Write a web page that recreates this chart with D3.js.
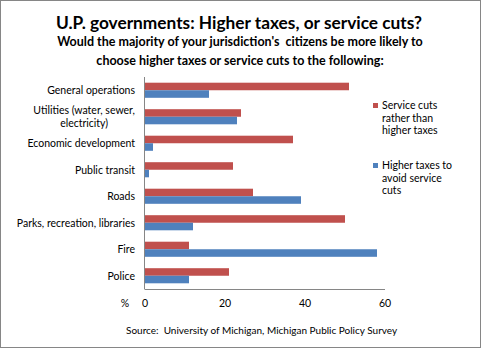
<!DOCTYPE html>
<html>
<head>
<meta charset="utf-8">
<script src="https://cdn.jsdelivr.net/npm/d3@7"></script>
<style>
	body { margin: 0; background: #fff; }
	svg { display: block; font-family: Lato, sans-serif; }
	.title { font-size: 17.3px; font-weight: bold; fill: #000; }
	.subtitle { font-size: 12.5px; font-weight: bold; fill: #000; }
	.label { font-size: 10.5px; fill: #000; }
	.source { font-size: 10px; fill: #000; }
</style>
</head>
<body>
<div id="chart"></div>
<script>
// survey answers, % of jurisdictions
const categories = ['General operations', 'Utilities (water, sewer,|electricity)', 'Economic development', 'Public transit', 'Roads', 'Parks, recreation, libraries', 'Fire', 'Police'];
const serviceCuts = [51, 24, 37, 22, 27, 50, 11, 21];
const higherTaxes = [16, 23, 2, 1, 39, 12, 58, 11];
const xTicks = [0, 20, 40, 60];
const seriesNames = ['Service cuts|rather than|higher taxes', 'Higher taxes to|avoid service|cuts'];
const seriesColors = ['#C0504D', '#4F81BD'];

const width = 481, height = 348;

const svg = d3.select('#chart').append('svg')
	.attr('width', width)
	.attr('height', height)

svg.append('rect')
	.attr('x', 0.5).attr('y', 0.5)
	.attr('width', width - 1).attr('height', height - 1)
	.style('fill', '#fff')
	.style('stroke', '#868686')

svg.append('text')
	.attr('class', 'title')
	.attr('x', 239).attr('y', 29)
	.attr('text-anchor', 'middle')
	.text('U.P. governments: Higher taxes, or service cuts?')

svg.selectAll('.subtitle')
	.data(['Would the majority of your jurisdiction\'s  citizens be more likely to', 'choose higher taxes or service cuts to the following:'])
	.enter()
	.append('text')
	.attr('class', 'subtitle')
	.attr('x', 240)
	.attr('y', (d, i) => 46 + i * 19)
	.attr('text-anchor', 'middle')
	.style('white-space', 'pre')
	.text(d => d)

const x = d3.scaleLinear().domain([0, 60]).range([145, 385]);
const y = d3.scaleBand().domain(categories).range([77, 289]).paddingInner(0.43).paddingOuter(0.215);
const sub = d3.scaleBand().domain([0, 1]).range([0, y.bandwidth()]);

const plot = svg.append('g')

const rows = plot.selectAll('g.row')
	.data(categories.map((c, i) => ({ name: c, values: [serviceCuts[i], higherTaxes[i]] })))
	.enter()
	.append('g')
	.attr('class', 'row')
	.attr('transform', d => `translate(0,${y(d.name)})`)

rows.selectAll('rect')
	.data(d => d.values)
	.enter()
	.append('rect')
	.attr('x', x(0))
	.attr('y', (d, i) => sub(i))
	.attr('width', d => x(d) - x(0))
	.attr('height', sub.bandwidth())
	.style('fill', (d, i) => seriesColors[i])

// category labels, multi-line ones centred as a block
rows.each(function (d) {
	const lines = d.name.split('|');
	const g = d3.select(this);
	const t = g.append('text')
		.attr('class', 'label')
		.attr('text-anchor', 'end')
		.attr('y', y.bandwidth() / 2 - (lines.length - 1) * 6.5 + 4)
	lines.forEach((l, i) => t.append('tspan').attr('x', 135).attr('dy', i ? 13 : 0).text(l));
	if (lines.length > 1) {
		const w = t.node().getBBox().width;
		t.attr('text-anchor', 'middle').selectAll('tspan').attr('x', 135 - w / 2);
	}
})

plot.append('line')
	.attr('x1', x(0) - 0.5).attr('x2', x(0) - 0.5)
	.attr('y1', 77).attr('y2', 289)
	.style('stroke', '#868686')

plot.append('line')
	.attr('x1', x(0) - 0.5).attr('x2', x(60))
	.attr('y1', 289.5).attr('y2', 289.5)
	.style('stroke', '#868686')

plot.selectAll('.tick')
	.data(xTicks)
	.enter()
	.append('text')
	.attr('class', 'label tick')
	.attr('x', d => x(d))
	.attr('y', 307)
	.attr('text-anchor', 'middle')
	.text(d => d)

plot.append('text')
	.attr('class', 'label')
	.attr('x', 125).attr('y', 307)
	.attr('text-anchor', 'middle')
	.text('%')

const legend = svg.selectAll('g.legend')
	.data(seriesNames)
	.enter()
	.append('g')
	.attr('class', 'legend')
	.attr('transform', (d, i) => `translate(373,${103 + i * 60})`)

legend.append('rect')
	.attr('width', 5).attr('height', 5)
	.style('fill', (d, i) => seriesColors[i])

legend.append('text')
	.attr('class', 'label')
	.attr('y', 6)
	.selectAll('tspan')
	.data(d => d.split('|'))
	.enter()
	.append('tspan')
	.attr('x', 9)
	.attr('dy', (d, i) => i ? 12.7 : 0)
	.text(d => d)

svg.append('text')
	.attr('class', 'source')
	.attr('x', 126).attr('y', 334)
	.style('white-space', 'pre')
	.text('Source:  University of Michigan, Michigan Public Policy Survey')
</script>
</body>
</html>
